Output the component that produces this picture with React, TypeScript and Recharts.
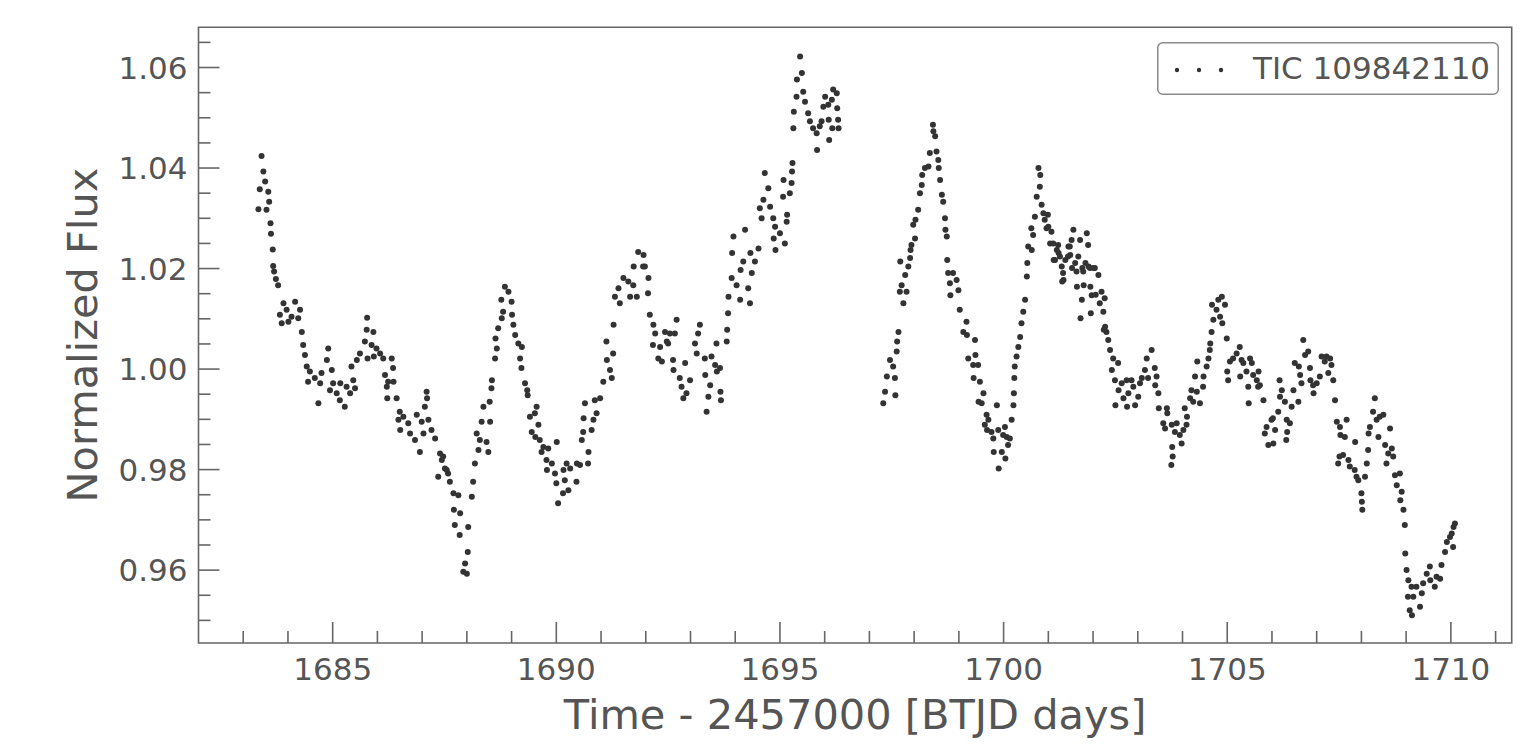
import React from 'react';
import { ScatterChart, Scatter, XAxis, YAxis, Legend, ReferenceArea, Label } from 'recharts';

// ---------- text ----------
const seriesName = 'TIC 109842110';
const xLabel = 'Time - 2457000 [BTJD days]';
const yLabel = 'Normalized Flux';

// ---------- ticks ----------
const xMajorTicks = [1685, 1690, 1695, 1700, 1705, 1710];
const xMinorTicks = [1683, 1684, 1686, 1687, 1688, 1689, 1691, 1692, 1693, 1694, 1696, 1697, 1698, 1699, 1701, 1702, 1703, 1704, 1706, 1707, 1708, 1709, 1711];
const yMajorTicks = [0.96, 0.98, 1.0, 1.02, 1.04, 1.06];
const yMinorTicks = [0.95, 0.955, 0.965, 0.97, 0.975, 0.985, 0.99, 0.995, 1.005, 1.01, 1.015, 1.025, 1.03, 1.035, 1.045, 1.05, 1.055, 1.065];
const xDomain = [1682.0, 1711.36];
const yDomain = [0.9455, 1.068];

// ---------- data: [time (BTJD), normalized flux] ----------
const orbit1a = [
  [1683.34,1.0318],[1683.37,1.0358],[1683.41,1.0424],[1683.45,1.0393],[1683.49,1.0373],[1683.52,1.0317],[1683.56,1.0353],[1683.58,1.0333],[1683.61,1.0290],[1683.62,1.0269],[1683.66,1.0238],[1683.67,1.0205],[1683.69,1.0194],[1683.73,1.0179],[1683.78,1.0167],[1683.82,1.0108],[1683.86,1.0091],[1683.90,1.0131],[1683.97,1.0118],[1684.01,1.0094],[1684.08,1.0104],[1684.16,1.0134],[1684.23,1.0101],[1684.27,1.0118],[1684.31,1.0074],[1684.34,1.0048],[1684.38,1.0028],[1684.42,1.0005],[1684.45,0.9975],[1684.49,0.9995],[1684.60,0.9982],[1684.68,0.9932],[1684.72,0.9972],[1684.75,0.9992],[1684.87,1.0018],[1684.90,1.0041],[1684.94,0.9958],[1684.98,0.9998],[1685.01,0.9972],[1685.09,0.9952],[1685.16,0.9938],[1685.17,0.9972],[1685.27,0.9925],[1685.31,0.9965],[1685.39,0.9952],[1685.42,1.0005],[1685.46,0.9978],[1685.50,0.9962],[1685.54,1.0018],[1685.61,1.0031],[1685.72,1.0055],[1685.76,1.0078],[1685.77,1.0102],[1685.78,1.0021],[1685.87,1.0048],[1685.91,1.0074],[1685.92,1.0025],[1685.98,1.0041],[1686.06,1.0031],[1686.13,1.0021],[1686.17,0.9988],[1686.21,0.9965],[1686.22,0.9942],[1686.24,0.9975],[1686.32,1.0021],[1686.35,1.0002],[1686.36,0.9975],[1686.43,0.9942],[1686.47,0.9899],[1686.50,0.9915],[1686.51,0.9879],[1686.58,0.9905],[1686.69,0.9892],[1686.73,0.9872],[1686.84,0.9859],[1686.88,0.9909],[1686.95,0.9835],[1686.99,0.9895],[1687.03,0.9872],[1687.06,0.9925],[1687.10,0.9955],[1687.11,0.9942],[1687.14,0.9899],[1687.21,0.9879],[1687.29,0.9862],[1687.36,0.9786],[1687.40,0.9832],[1687.44,0.9819],[1687.47,0.9826],[1687.51,0.9802],[1687.55,0.9799],[1687.58,0.9792],[1687.62,0.9776],[1687.70,0.9753],[1687.71,0.9720],[1687.73,0.9690],[1687.81,0.9749],[1687.84,0.9670],[1687.85,0.9713],[1687.92,0.9597],[1687.96,0.9613],[1688.00,0.9593],[1688.02,0.9636],[1688.03,0.9686],
];
const orbit1b = [
  [1688.11,0.9746],[1688.14,0.9776],[1688.18,0.9812],[1688.22,0.9872],[1688.26,0.9839],[1688.29,0.9859],[1688.33,0.9895],[1688.37,0.9925],[1688.44,0.9855],[1688.48,0.9835],[1688.51,0.9935],[1688.52,0.9895],[1688.55,0.9962],[1688.56,0.9978],[1688.63,1.0021],[1688.64,1.0061],[1688.67,1.0041],[1688.70,1.0081],[1688.77,1.0138],[1688.78,1.0101],[1688.81,1.0114],[1688.85,1.0164],[1688.93,1.0154],[1689.00,1.0134],[1689.01,1.0108],[1689.04,1.0088],[1689.08,1.0068],[1689.15,1.0051],[1689.19,1.0021],[1689.22,1.0002],[1689.23,1.0044],[1689.30,0.9972],[1689.35,0.9958],[1689.36,0.9948],[1689.41,0.9905],[1689.45,0.9875],[1689.52,0.9912],[1689.53,0.9865],[1689.56,0.9925],[1689.60,0.9889],[1689.63,0.9859],[1689.67,0.9835],[1689.71,0.9845],[1689.78,0.9819],[1689.79,0.9799],[1689.82,0.9842],[1689.90,0.9812],[1689.97,0.9792],[1690.00,0.9773],[1690.01,0.9855],[1690.04,0.9733],[1690.15,0.9753],[1690.16,0.9799],[1690.19,0.9779],[1690.23,0.9812],[1690.27,0.9759],[1690.31,0.9802],[1690.45,0.9776],[1690.46,0.9812],[1690.53,0.9809],[1690.57,0.9859],[1690.60,0.9875],[1690.61,0.9902],[1690.64,0.9932],[1690.71,0.9812],[1690.72,0.9835],[1690.79,0.9879],[1690.83,0.9899],[1690.86,0.9938],[1690.90,0.9912],[1690.98,0.9942],[1691.05,0.9975],[1691.12,1.0055],[1691.13,1.0018],[1691.20,0.9998],[1691.24,0.9982],[1691.27,1.0031],[1691.28,1.0088],[1691.31,1.0144],[1691.39,1.0161],[1691.42,1.0131],[1691.50,1.0181],[1691.61,1.0174],[1691.65,1.0144],[1691.72,1.0167],[1691.73,1.0204],[1691.80,1.0144],[1691.83,1.0233],[1691.94,1.0204],[1691.95,1.0227],[1691.98,1.0204],[1692.05,1.0151],[1692.06,1.0181],[1692.09,1.0108],[1692.16,1.0048],[1692.17,1.0088],[1692.21,1.0071],[1692.28,1.0021],[1692.32,1.0044],[1692.36,1.0015],[1692.43,1.0074],[1692.47,1.0055],
];
const orbit1c = [
  [1692.50,1.0051],[1692.54,1.0071],[1692.61,1.0018],[1692.62,0.9998],[1692.65,1.0071],[1692.69,1.0098],[1692.76,0.9982],[1692.80,0.9965],[1692.84,0.9942],[1692.88,1.0012],[1692.91,0.9952],[1692.99,0.9978],[1693.10,1.0051],[1693.14,1.0031],[1693.17,1.0071],[1693.21,1.0088],[1693.32,1.0021],[1693.33,0.9988],[1693.36,0.9915],[1693.40,0.9945],[1693.44,0.9968],[1693.47,1.0025],[1693.55,1.0008],[1693.58,1.0051],[1693.59,0.9995],[1693.66,1.0002],[1693.67,0.9955],[1693.68,0.9938],[1693.81,1.0055],[1693.82,1.0078],[1693.84,1.0111],[1693.85,1.0144],[1693.92,1.0181],[1693.93,1.0231],[1693.96,1.0264],[1694.03,1.0167],[1694.11,1.0138],[1694.12,1.0197],[1694.18,1.0214],[1694.22,1.0277],[1694.29,1.0161],[1694.33,1.0131],[1694.34,1.0231],[1694.37,1.0191],[1694.44,1.0214],[1694.52,1.0240],[1694.55,1.0320],[1694.59,1.0300],[1694.63,1.0337],[1694.66,1.0390],[1694.74,1.0360],[1694.78,1.0323],[1694.85,1.0300],[1694.86,1.0260],[1694.89,1.0283],[1694.90,1.0237],[1695.00,1.0270],[1695.07,1.0343],[1695.08,1.0376],[1695.11,1.0250],[1695.15,1.0293],[1695.16,1.0307],[1695.22,1.0350],[1695.26,1.0370],[1695.27,1.0393],[1695.28,1.0410],[1695.30,1.0479],[1695.31,1.0512],[1695.37,1.0542],[1695.38,1.0576],[1695.45,1.0622],[1695.49,1.0589],[1695.52,1.0552],[1695.56,1.0532],[1695.63,1.0509],[1695.67,1.0493],[1695.74,1.0479],[1695.82,1.0469],[1695.83,1.0436],[1695.89,1.0483],[1695.93,1.0493],[1695.97,1.0522],[1696.01,1.0542],[1696.08,1.0526],[1696.09,1.0496],[1696.10,1.0456],[1696.16,1.0536],[1696.17,1.0479],[1696.19,1.0556],[1696.27,1.0549],[1696.28,1.0519],[1696.30,1.0496],[1696.31,1.0479],
];
const orbit2a = [
  [1697.31,0.9932],[1697.35,0.9955],[1697.39,0.9985],[1697.46,1.0018],[1697.53,1.0005],[1697.57,0.9982],[1697.58,0.9948],[1697.61,1.0035],[1697.62,1.0055],[1697.65,1.0074],[1697.68,1.0154],[1697.69,1.0214],[1697.72,1.0167],[1697.76,1.0131],[1697.80,1.0187],[1697.83,1.0154],[1697.87,1.0204],[1697.91,1.0221],[1697.92,1.0237],[1697.94,1.0247],[1697.98,1.0287],[1698.02,1.0260],[1698.03,1.0297],[1698.09,1.0317],[1698.13,1.0350],[1698.17,1.0366],[1698.18,1.0386],[1698.24,1.0400],[1698.32,1.0403],[1698.35,1.0430],[1698.42,1.0486],[1698.43,1.0473],[1698.47,1.0463],[1698.50,1.0433],[1698.54,1.0416],[1698.55,1.0400],[1698.58,1.0376],[1698.62,1.0347],[1698.65,1.0333],[1698.69,1.0300],[1698.70,1.0277],[1698.73,1.0264],[1698.74,1.0217],[1698.76,1.0191],[1698.80,1.0171],[1698.81,1.0147],[1698.87,1.0191],[1698.95,1.0177],[1698.99,1.0157],[1699.02,1.0118],[1699.10,1.0074],[1699.17,1.0094],[1699.18,1.0068],[1699.21,1.0021],[1699.32,1.0008],[1699.33,0.9982],[1699.36,1.0058],[1699.37,1.0028],[1699.43,1.0008],[1699.44,0.9935],[1699.47,0.9975],[1699.51,0.9932],[1699.55,0.9952],[1699.58,0.9889],[1699.62,0.9909],[1699.63,0.9879],[1699.66,0.9899],[1699.73,0.9875],[1699.77,0.9862],[1699.78,0.9835],[1699.85,0.9928],[1699.88,0.9879],[1699.89,0.9802],[1699.96,0.9835],[1699.99,0.9869],[1700.03,0.9885],[1700.04,0.9822],[1700.07,0.9865],[1700.10,0.9849],[1700.14,0.9862],[1700.18,0.9899],[1700.22,0.9928],[1700.23,0.9952],[1700.24,0.9982],[1700.25,1.0005],[1700.29,1.0025],[1700.33,1.0044],[1700.37,1.0064],[1700.40,1.0091],[1700.44,1.0114],[1700.48,1.0138],[1700.52,1.0184],[1700.53,1.0211],[1700.55,1.0244],[1700.62,1.0280],[1700.63,1.0237],[1700.66,1.0267],[1700.70,1.0303],[1700.74,1.0343],[1700.78,1.0400],[1700.81,1.0363],[1700.82,1.0386],[1700.85,1.0327],[1700.89,1.0310],[1700.92,1.0297],[1700.96,1.0280],[1700.99,1.0307],
];
const orbit2b = [
  [1701.00,1.0283],[1701.04,1.0250],[1701.07,1.0273],[1701.11,1.0250],[1701.12,1.0217],[1701.15,1.0217],[1701.19,1.0237],[1701.22,1.0247],[1701.23,1.0231],[1701.26,1.0224],[1701.30,1.0204],[1701.31,1.0174],[1701.33,1.0191],[1701.34,1.0177],[1701.38,1.0217],[1701.44,1.0224],[1701.45,1.0244],[1701.48,1.0244],[1701.49,1.0227],[1701.52,1.0257],[1701.53,1.0201],[1701.56,1.0277],[1701.60,1.0211],[1701.63,1.0194],[1701.64,1.0164],[1701.67,1.0224],[1701.71,1.0257],[1701.72,1.0101],[1701.75,1.0138],[1701.76,1.0201],[1701.78,1.0194],[1701.79,1.0167],[1701.83,1.0211],[1701.86,1.0270],[1701.89,1.0247],[1701.90,1.0204],[1701.93,1.0201],[1701.94,1.0164],[1701.95,1.0111],[1701.97,1.0147],[1702.01,1.0201],[1702.04,1.0201],[1702.06,1.0148],[1702.12,1.0187],[1702.15,1.0131],[1702.19,1.0154],[1702.23,1.0114],[1702.24,1.0078],[1702.26,1.0141],[1702.27,1.0084],[1702.30,1.0074],[1702.34,1.0058],[1702.38,1.0038],[1702.42,0.9998],[1702.45,1.0021],[1702.49,0.9978],[1702.50,0.9928],[1702.56,1.0012],[1702.57,0.9958],[1702.64,0.9972],[1702.68,0.9942],[1702.75,0.9978],[1702.76,0.9925],[1702.79,0.9952],[1702.86,0.9978],[1702.90,0.9965],[1702.94,0.9928],[1703.01,0.9945],[1703.05,0.9972],[1703.09,0.9982],[1703.16,0.9998],[1703.20,1.0021],[1703.23,0.9982],[1703.31,1.0038],[1703.38,1.0002],[1703.39,0.9968],[1703.42,0.9985],[1703.46,0.9952],[1703.47,0.9922],[1703.57,0.9892],[1703.61,0.9882],[1703.65,0.9922],[1703.66,0.9912],[1703.75,0.9809],[1703.76,0.9889],[1703.77,0.9845],[1703.78,0.9826],[1703.83,0.9875],[1703.87,0.9892],[1703.94,0.9869],[1703.98,0.9852],[1704.02,0.9879],[1704.05,0.9922],[1704.09,0.9889],[1704.10,0.9905],[1704.17,0.9942],[1704.20,0.9958],[1704.24,0.9935],[1704.28,0.9985],[1704.32,0.9955],[1704.33,1.0015],[1704.39,0.9932],[1704.46,0.9965],[1704.47,0.9985],[1704.54,1.0005],[1704.58,1.0021],[1704.61,1.0038],[1704.62,1.0051],[1704.65,1.0074],[1704.66,1.0128],[1704.69,1.0098],[1704.76,1.0118],[1704.80,1.0138],[1704.84,1.0104],[1704.88,1.0144],[1704.89,1.0091],[1704.95,1.0128],[1704.99,1.0061],
];
const orbit2c = [
  [1705.00,0.9995],[1705.02,0.9978],[1705.06,1.0015],[1705.13,1.0021],[1705.21,1.0031],[1705.28,1.0044],[1705.29,0.9985],[1705.32,1.0018],[1705.36,1.0012],[1705.43,0.9995],[1705.47,0.9965],[1705.48,0.9932],[1705.51,1.0021],[1705.55,1.0012],[1705.58,0.9988],[1705.66,0.9978],[1705.69,0.9965],[1705.70,0.9995],[1705.73,0.9968],[1705.81,0.9938],[1705.84,0.9872],[1705.88,0.9885],[1705.92,0.9849],[1705.99,0.9899],[1706.02,0.9902],[1706.03,0.9852],[1706.07,0.9879],[1706.14,0.9915],[1706.17,0.9978],[1706.18,0.9945],[1706.22,0.9958],[1706.29,0.9935],[1706.32,0.9859],[1706.33,0.9899],[1706.34,0.9875],[1706.40,0.9892],[1706.44,0.9925],[1706.48,0.9958],[1706.51,1.0012],[1706.59,0.9935],[1706.60,1.0005],[1706.63,0.9988],[1706.66,0.9972],[1706.70,1.0058],[1706.74,1.0028],[1706.81,1.0035],[1706.85,1.0002],[1706.86,0.9978],[1706.92,0.9968],[1706.93,0.9952],[1707.00,0.9972],[1707.07,0.9985],[1707.11,1.0025],[1707.18,1.0015],[1707.22,1.0025],[1707.26,0.9992],[1707.30,1.0021],[1707.33,1.0008],[1707.37,0.9978],[1707.41,0.9938],[1707.45,0.9895],[1707.48,0.9812],[1707.51,0.9826],[1707.52,0.9885],[1707.53,0.9869],[1707.59,0.9829],[1707.63,0.9865],[1707.67,0.9899],[1707.71,0.9819],[1707.74,0.9806],[1707.85,0.9799],[1707.86,0.9855],[1707.89,0.9786],[1707.93,0.9779],[1708.00,0.9753],[1708.01,0.9736],[1708.02,0.9720],[1708.08,0.9786],[1708.12,0.9812],[1708.15,0.9839],[1708.16,0.9872],[1708.19,0.9885],[1708.26,0.9915],[1708.30,0.9942],[1708.34,0.9899],[1708.38,0.9865],[1708.41,0.9905],[1708.49,0.9909],[1708.53,0.9849],[1708.56,0.9812],[1708.60,0.9832],[1708.64,0.9882],[1708.68,0.9842],[1708.71,0.9826],[1708.75,0.9789],[1708.79,0.9769],[1708.86,0.9792],[1708.87,0.9739],[1708.90,0.9756],[1708.94,0.9720],[1708.97,0.9690],[1708.98,0.9633],[1709.01,0.9600],[1709.04,0.9547],[1709.05,0.9580],[1709.08,0.9520],[1709.12,0.9567],[1709.13,0.9510],[1709.16,0.9547],[1709.23,0.9567],[1709.31,0.9527],[1709.35,0.9554],[1709.38,0.9574],[1709.46,0.9593],[1709.53,0.9607],[1709.54,0.9580],[1709.64,0.9567],[1709.68,0.9587],[1709.76,0.9583],[1709.79,0.9610],[1709.87,0.9636],[1709.91,0.9656],[1709.98,0.9666],[1710.02,0.9673],[1710.05,0.9646],[1710.06,0.9686],[1710.09,0.9693],
];

const lightCurve = [...orbit1a, ...orbit1b, ...orbit1c, ...orbit2a, ...orbit2b, ...orbit2c].map(
  ([time, flux]) => ({ time, flux })
);
const xTicks = [...xMajorTicks, ...xMinorTicks].sort((a, b) => a - b);
const yTicks = [...yMajorTicks, ...yMinorTicks].sort((a, b) => a - b);

// ---------- style ----------
const FONT = '"DejaVu Sans", Verdana, sans-serif';
const AXIS = '#666666';
const TEXT = '#555555';
const DOT = '#333333';
const MAJOR_LEN = 21;
const MINOR_LEN = 12;

const isMajor = (list: number[], v: number) => list.some((m) => Math.abs(m - v) < 1e-9);

const XTick = (props: any) => {
  const { x, y, payload } = props;
  const v = payload.value;
  const major = isMajor(xMajorTicks, v);
  return (
    <g>
      <line x1={x} x2={x} y1={y} y2={y - (major ? MAJOR_LEN : MINOR_LEN)} stroke={AXIS} strokeWidth={1.6} />
      {major && (
        <text x={x} y={y + 37} textAnchor="middle" fill={TEXT} fontSize={31} fontFamily={FONT}>
          {String(v)}
        </text>
      )}
    </g>
  );
};

const YTick = (props: any) => {
  const { x, y, payload } = props;
  const v = payload.value;
  const major = isMajor(yMajorTicks, v);
  return (
    <g>
      <line x1={x} x2={x + (major ? MAJOR_LEN : MINOR_LEN)} y1={y} y2={y} stroke={AXIS} strokeWidth={1.6} />
      {major && (
        <text x={x - 11} y={y} dy="0.36em" textAnchor="end" fill={TEXT} fontSize={31} fontFamily={FONT}>
          {v.toFixed(2)}
        </text>
      )}
    </g>
  );
};

const renderDot = (props: any) => <circle cx={props.cx} cy={props.cy} r={3} fill={DOT} />;

const renderLegend = (props: any) => {
  const name = props?.payload?.[0]?.value ?? seriesName;
  return (
    <svg width={342} height={53} style={{ display: 'block' }}>
      <rect x={0.75} y={0.75} width={340.5} height={51.5} rx={5} ry={5} fill="#ffffff" stroke="#8a8a8a" strokeWidth={1.5} />
      <circle cx={20} cy={28} r={2.2} fill={DOT} />
      <circle cx={42} cy={28} r={2.2} fill={DOT} />
      <circle cx={64} cy={28} r={2.2} fill={DOT} />
      <text x={96} y={36.5} fill={TEXT} fontSize={31} fontFamily={FONT}>
        {name}
      </text>
    </svg>
  );
};

const YLabelContent = (props: any) => {
  const vb = props.viewBox || { x: 0, y: 19.3, width: 190.5, height: 615.7 };
  const x = vb.x + vb.width - 101.5;
  const y = vb.y + vb.height / 2;
  return (
    <text x={x} y={y} transform={`rotate(-90, ${x}, ${y})`} textAnchor="middle" fill={TEXT} fontSize={41.5} fontFamily={FONT}>
      {yLabel}
    </text>
  );
};

const XLabelContent = (props: any) => {
  const vb = props.viewBox || { x: 190.5, y: 635, width: 1313.2, height: 101 };
  const x = vb.x + vb.width / 2;
  const y = vb.y + 86;
  return (
    <text x={x} y={y} textAnchor="middle" fill={TEXT} fontSize={41.5} fontFamily={FONT}>
      {xLabel}
    </text>
  );
};

export default function App() {
  return (
    <div style={{ width: 1512, height: 736, background: '#ffffff' }}>
      <ScatterChart width={1512} height={736} margin={{ top: 19.3, right: 8.3, bottom: 0, left: 0 }}>
        <XAxis
          type="number"
          dataKey="time"
          domain={xDomain}
          allowDataOverflow
          ticks={xTicks}
          interval={0}
          tick={<XTick />}
          tickLine={false}
          tickSize={0}
          tickMargin={0}
          axisLine={false}
          height={101}
        >
          <Label content={<XLabelContent />} />
        </XAxis>
        <YAxis
          type="number"
          dataKey="flux"
          domain={yDomain}
          allowDataOverflow
          ticks={yTicks}
          interval={0}
          tick={<YTick />}
          tickLine={false}
          tickSize={0}
          tickMargin={0}
          axisLine={false}
          width={190.5}
        >
          <Label content={<YLabelContent />} />
        </YAxis>
        <ReferenceArea
          x1={xDomain[0]}
          x2={xDomain[1]}
          y1={yDomain[0]}
          y2={yDomain[1]}
          ifOverflow="visible"
          fill="none"
          fillOpacity={0}
          stroke={AXIS}
          strokeWidth={1.6}
        />
        <Scatter
          name={seriesName}
          data={lightCurve}
          fill={DOT}
          shape={renderDot}
          isAnimationActive={false}
        />
        <Legend
          layout="horizontal"
          verticalAlign="middle"
          align="center"
          content={renderLegend}
          wrapperStyle={{ left: 1149, top: 34, width: 342, height: 53 }}
        />
      </ScatterChart>
    </div>
  );
}
